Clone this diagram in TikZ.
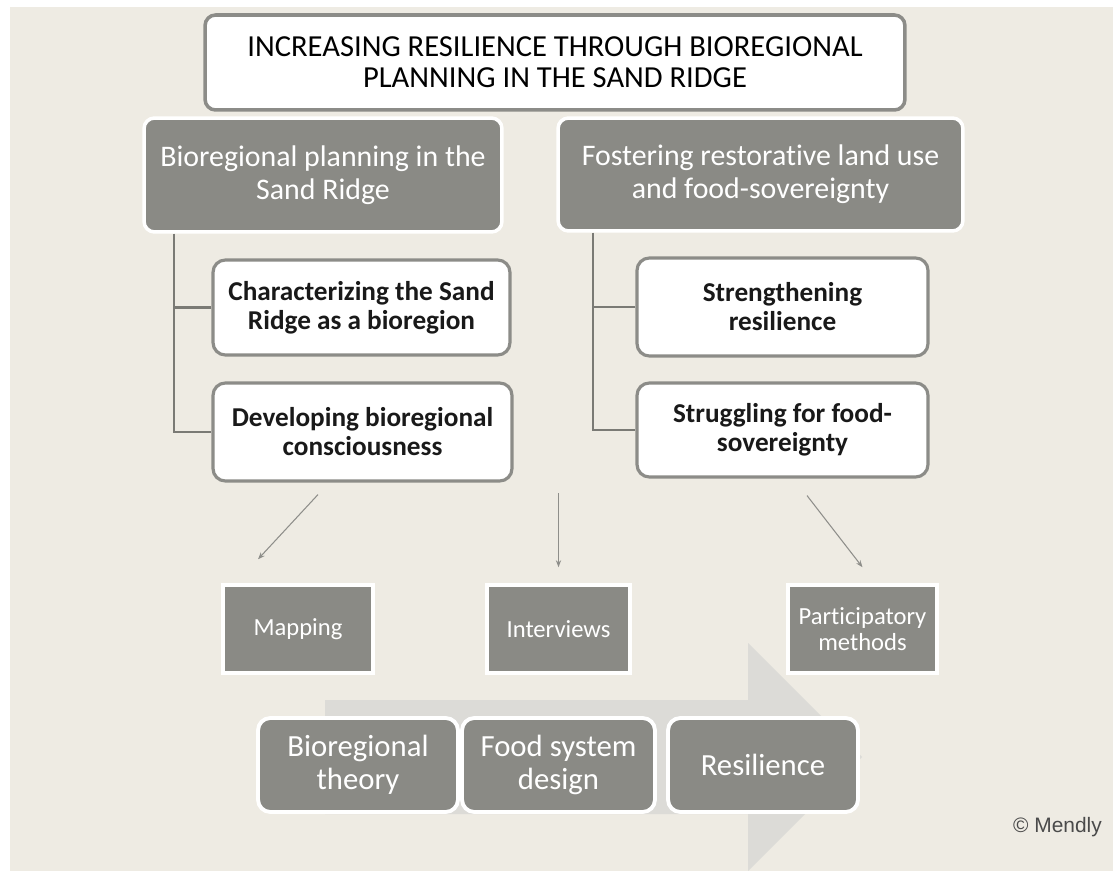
\documentclass[tikz,border=0pt]{standalone}
\usepackage{fontspec}
\setmainfont{Carlito}[Ligatures=CommonOff]
\newfontfamily\creditfont{Liberation Sans}
\usetikzlibrary{positioning, calc, arrows.meta}
\definecolor{bgbeige}{HTML}{EEEBE3}
\definecolor{boxgray}{HTML}{8A8A85}
\definecolor{edgegray}{HTML}{8C8C88}
\definecolor{linegray}{HTML}{7A7A75}
\definecolor{pointergray}{HTML}{8E8E8A}
\definecolor{bigarrow}{HTML}{DCDBD7}
\definecolor{creditgray}{HTML}{4A4A4A}

\begin{document}
\begin{tikzpicture}[x=0.02cm, y=-0.02cm,
  titlebox/.style={draw=edgegray, line width=2pt, fill=white, rounded corners=6pt, align=center, inner sep=0pt, font=\fontsize{17.4}{17.6}\selectfont},
  headbox/.style={draw=white, line width=2pt, fill=boxgray, rounded corners=6pt, text=white, align=center, inner sep=0pt, font=\fontsize{17}{19}\selectfont},
  subbox/.style={draw=edgegray, line width=1.8pt, fill=white, rounded corners=7pt, text=black!90, align=center, inner sep=0pt, font=\fontsize{15.5}{16.5}\selectfont\bfseries},
  methodbox/.style={draw=white, line width=2pt, fill=boxgray, text=white, align=center, inner sep=0pt, minimum height=1.76cm, font=\fontsize{14}{14.5}\selectfont},
  themebox/.style={draw=white, line width=2.2pt, fill=boxgray, rounded corners=7pt, text=white, align=center, inner sep=0pt, minimum height=1.88cm, font=\fontsize{17.5}{18.5}\selectfont},
  tree/.style={draw=linegray, line width=1.2pt},
  pointer/.style={draw=pointergray, line width=0.6pt, -{Stealth[length=4pt,width=3pt]}}]
\useasboundingbox (0,0) rectangle (1113,871);
\fill[white] (0,0) rectangle (1113,871);
\fill[bgbeige] (10,7) rectangle (1113,871);

% Big arrow behind the themes
\fill[bigarrow] (325,700) -- (748,700) -- (748,643) -- (862,757) -- (748,871) -- (748,814) -- (325,814) -- cycle;

% Title
\node[titlebox, minimum width=14cm, minimum height=1.9cm] (title) at (555,62.5) {INCREASING RESILIENCE THROUGH BIOREGIONAL\\PLANNING IN THE SAND RIDGE};

% Left branch
\node[headbox, minimum width=7.16cm, minimum height=2.28cm] (hleft) at (323,175) {Bioregional planning in the\\Sand Ridge};
\node[subbox, minimum width=5.94cm, minimum height=1.9cm] (charact) at (361.5,307.5) {Characterizing the Sand\\Ridge as a bioregion};
\node[subbox, minimum width=5.98cm, minimum height=1.96cm] (conscious) at (362.5,432) {Developing bioregional\\consciousness};
\coordinate (lstem) at ($(hleft.south west)+(32,0)$);
\draw[tree] (lstem) |- (conscious.west);
\draw[tree] (charact.west) -- (charact.west -| lstem);

% Right branch
\node[headbox, minimum width=8.1cm, minimum height=2.26cm] (hright) at (760.5,174.5) {Fostering restorative land use\\and food-sovereignty};
\node[subbox, minimum width=5.82cm, minimum height=1.96cm] (strength) at (782.5,307) {Strengthening\\resilience};
\node[subbox, minimum width=5.82cm, minimum height=1.88cm] (struggle) at (782.5,430) {Struggling for food-\\sovereignty};
\coordinate (rstem) at ($(hright.south west)+(37,0)$);
\draw[tree] (rstem) |- (struggle.west);
\draw[tree] (strength.west) -- (strength.west -| rstem);

% Methods
\node[methodbox, minimum width=3cm] (mapping) at (298,629) {Mapping};
\node[methodbox, minimum width=2.86cm] (interviews) at (558.5,629) {Interviews};
\node[methodbox, minimum width=2.98cm] (particip) at (862.5,629) {Participatory\\methods};
\draw[pointer] ($(conscious.south)+(-44.5,12)$) -- ($(mapping.north)+(-40,-24)$);
\draw[pointer] ($(interviews.north)+(0,-90)$) -- ($(interviews.north)+(0,-16)$);
\draw[pointer] ($(struggle.south)+(24.5,17)$) -- ($(particip.north)+(0,-16)$);

% Themes
\node[themebox, minimum width=4cm] (theory) at (358,765) {Bioregional\\theory};
\node[themebox, minimum width=3.86cm] (design) at (558.5,765) {Food system\\design};
\node[themebox, minimum width=3.8cm] (resil) at (763,765) {Resilience};

\node[anchor=east, text=creditgray, font=\creditfont\fontsize{11.9}{12}\selectfont] (credit) at (1108,827) {© Mendly};
\end{tikzpicture}
\end{document}
